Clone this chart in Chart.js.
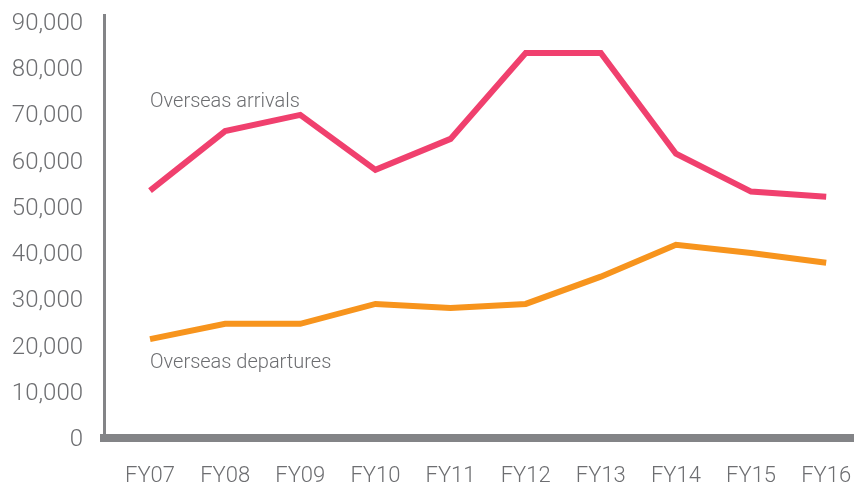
<!DOCTYPE html>
<html>
<head>
<meta charset="utf-8">
<script src="https://cdn.jsdelivr.net/npm/chart.js@4"></script>
<style>
    body { margin: 0; background: #fff; }
    canvas { display: block; }
</style>
</head>
<body>
<canvas id="travelChart" width="854" height="486"></canvas>
<script>
const categories = ["FY07", "FY08", "FY09", "FY10", "FY11", "FY12", "FY13", "FY14", "FY15", "FY16"];
const arrivals = [53500, 66400, 69900, 58000, 64700, 83300, 83300, 61500, 53300, 52200];
const departures = [21400, 24700, 24700, 29000, 28100, 29000, 34900, 41800, 40000, 37900];
const yTicks = [0, 10000, 20000, 30000, 40000, 50000, 60000, 70000, 80000, 90000];

const grey = "#6d6e71";
const axisGrey = "#838487";
const fontFamily = "Roboto, 'Liberation Sans', sans-serif";

// series labels sit inside the plot, next to the first point
const seriesLabels = {
    id: "seriesLabels",
    afterDatasetsDraw(chart) {
        const ctx = chart.ctx;
        const x = chart.scales.x;
        const y = chart.scales.y;
        ctx.save();
        ctx.font = "300 20px " + fontFamily;
        ctx.fillStyle = grey;
        ctx.textAlign = "left";
        ctx.textBaseline = "middle";
        ctx.fillText("Overseas arrivals", x.getPixelForValue(0), y.getPixelForValue(72600));
        ctx.fillText("Overseas departures", x.getPixelForValue(0), y.getPixelForValue(16300));
        ctx.restore();
    }
};

const points = (values) => values.map((v, i) => ({ x: i, y: v }));

new Chart(document.getElementById("travelChart"), {
    type: "line",
    data: {
        datasets: [
            {
                label: "Overseas arrivals",
                data: points(arrivals),
                borderColor: "#f0406e",
                borderWidth: 6,
                pointRadius: 0,
                tension: 0,
                borderJoinStyle: "miter",
                borderCapStyle: "butt"
            },
            {
                label: "Overseas departures",
                data: points(departures),
                borderColor: "#f7941d",
                borderWidth: 6,
                pointRadius: 0,
                tension: 0,
                borderJoinStyle: "miter",
                borderCapStyle: "butt"
            }
        ]
    },
    options: {
        responsive: false,
        animation: false,
        layout: { padding: { top: 15, left: 0, right: 0, bottom: 0 } },
        plugins: {
            legend: { display: false },
            tooltip: { enabled: false }
        },
        scales: {
            x: {
                type: "linear",
                min: -0.6125,
                max: 9.37,
                afterBuildTicks: (axis) => {
                    axis.ticks = categories.map((c, i) => ({ value: i }));
                },
                afterFit: (axis) => {
                    axis.height = 48;
                    axis.paddingLeft = 0;
                    axis.paddingRight = 0;
                },
                grid: { display: false, drawTicks: false },
                border: { display: true, color: axisGrey, width: 8 },
                ticks: {
                    padding: 25,
                    color: grey,
                    font: { family: fontFamily, size: 22, weight: "300" },
                    callback: (v) => categories[v] ?? ""
                }
            },
            y: {
                min: 0,
                max: 91500,
                afterBuildTicks: (axis) => {
                    axis.ticks = yTicks.map((v) => ({ value: v }));
                },
                afterFit: (axis) => {
                    axis.width = 104;
                    axis.paddingTop = 0;
                    axis.paddingBottom = 0;
                },
                grid: { display: false, drawTicks: false },
                border: { display: true, color: axisGrey, width: 3 },
                ticks: {
                    padding: 21,
                    labelOffset: 2,
                    color: grey,
                    font: { family: fontFamily, size: 24, weight: "300" },
                    callback: (v) => v.toLocaleString("en-US")
                }
            }
        }
    },
    plugins: [seriesLabels]
});
</script>
</body>
</html>
